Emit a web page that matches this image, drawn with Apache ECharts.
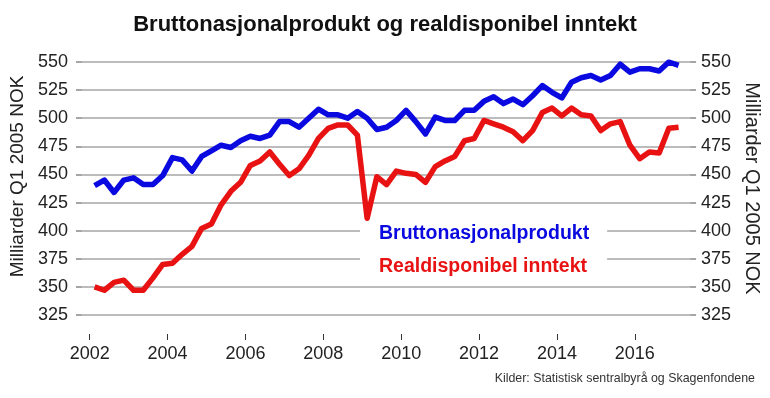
<!DOCTYPE html>
<html>
<head>
<meta charset="utf-8">
<script src="https://cdn.jsdelivr.net/npm/echarts@6/dist/echarts.min.js"></script>
<style>html,body{margin:0;padding:0;background:#fff}#c{width:770px;height:398px}</style>
</head>
<body>
<div id="c"></div>
<script>
var titleText = 'Bruttonasjonalprodukt og realdisponibel inntekt';
var sourceText = 'Kilder: Statistisk sentralbyrå og Skagenfondene';
var axisName = 'Milliarder Q1 2005 NOK';
var seriesNames = ['Bruttonasjonalprodukt', 'Realdisponibel inntekt'];
var firstYear = 2002;
var quarterCount = 61; // 2002K1 .. 2017K1
var yearTicks = [2002, 2004, 2006, 2008, 2010, 2012, 2014, 2016];
var yTicks = [325, 350, 375, 400, 425, 450, 475, 500, 525, 550];

var bnp = [440, 445, 434, 445, 447, 441, 441, 449, 465, 463, 453, 466, 471, 476, 474, 480,
           484, 482, 485, 497, 497, 492, 500, 508, 503, 503, 500, 506, 500, 490, 492, 498,
           507, 497, 486, 501, 498, 498, 507, 507, 515, 519, 513, 517, 512, 520, 529, 523,
           518, 532, 536, 538, 534, 538, 548, 541, 544, 544, 542, 550, 547];
var rdi = [350, 347, 354, 356, 347, 347, 358, 370, 371, 379, 386, 402, 406, 423, 435, 443,
           458, 462, 470, 459, 449, 455, 467, 482, 491, 494, 494, 485, 411, 448, 441, 453,
           451, 450, 443, 457, 462, 466, 480, 482, 498, 495, 492, 488, 480, 489, 505, 509,
           502, 509, 503, 502, 489, 495, 497, 476, 464, 470, 469, 491, 492];

// quarter positions (mid-quarter, in years)
var quarterPos = [];
for (var i = 0; i < quarterCount; i++) {
  quarterPos.push(firstYear + Math.floor(i / 4) + ((i % 4) + 0.5) / 4);
}
function pairs(vals) { return vals.map(function (v, i) { return [quarterPos[i], v]; }); }

var BLUE = '#0a0ae0', RED = '#e81212';
var fontFam = '"Liberation Sans", Arial, sans-serif';
var chart = echarts.init(document.getElementById('c'));
chart.setOption({
  animation: false,
  backgroundColor: '#fff',
  title: [
    { text: titleText, left: 'center', top: 9,
      textStyle: { fontFamily: fontFam, fontSize: 22, fontWeight: 'bold', color: '#111' } },
    { text: sourceText, right: 10, top: 368,
      textStyle: { fontFamily: fontFam, fontSize: 12.4, fontWeight: 'normal', color: '#333' } }
  ],
  grid: { left: 78, right: 78, top: 62, bottom: 83, containLabel: false },
  legend: {
    orient: 'vertical', left: 360, top: 220, z: 1,
    backgroundColor: '#fff', padding: [4, 18, 4, 19],
    icon: 'none', itemWidth: 0, itemHeight: 20, itemGap: 13,
    selectedMode: false,
    textStyle: { fontFamily: fontFam, fontSize: 19.5, fontWeight: 'bold', padding: [0, 0, 0, -5] },
    data: [
      { name: seriesNames[0], textStyle: { color: BLUE } },
      { name: seriesNames[1], textStyle: { color: RED } }
    ]
  },
  xAxis: {
    type: 'value', min: 2001.8, max: 2017.42, offset: 19,
    axisLine: { show: false },
    splitLine: { show: false },
    axisTick: { show: true, length: 6, customValues: yearTicks, lineStyle: { color: '#333', width: 1 } },
    axisLabel: { customValues: yearTicks, margin: 11, fontFamily: fontFam, fontSize: 18, color: '#222',
                 formatter: function (v) { return String(v); } }
  },
  yAxis: [
    { type: 'value', position: 'left', min: 325, max: 550, interval: 25,
      name: axisName, nameLocation: 'middle', nameRotate: 90, nameGap: 36,
      nameTextStyle: { fontFamily: fontFam, fontSize: 19, color: '#222', padding: [0, 0, 0, 24] },
      axisLine: { show: false },
      axisTick: { show: true, length: 6, lineStyle: { color: '#888', width: 1.5 } },
      splitLine: { show: true, lineStyle: { color: '#a6a6a6', width: 1.5 } },
      axisLabel: { margin: 14, fontFamily: fontFam, fontSize: 18, color: '#222' } },
    { type: 'value', position: 'right', min: 325, max: 550, interval: 25,
      name: axisName, nameLocation: 'middle', nameRotate: -90, nameGap: 27,
      nameTextStyle: { fontFamily: fontFam, fontSize: 20, color: '#222' },
      axisLine: { show: false },
      axisTick: { show: true, length: 6, lineStyle: { color: '#888', width: 1.5 } },
      splitLine: { show: false },
      axisLabel: { margin: 11, fontFamily: fontFam, fontSize: 18, color: '#222' } }
  ],
  series: [
    { name: seriesNames[0], type: 'line', data: pairs(bnp), showSymbol: false, z: 3,
      lineStyle: { color: BLUE, width: 5.5, join: 'round' }, itemStyle: { color: BLUE } },
    { name: seriesNames[1], type: 'line', data: pairs(rdi), showSymbol: false, z: 3,
      lineStyle: { color: RED, width: 5.5, join: 'round' }, itemStyle: { color: RED } }
  ]
});
</script>
</body>
</html>
